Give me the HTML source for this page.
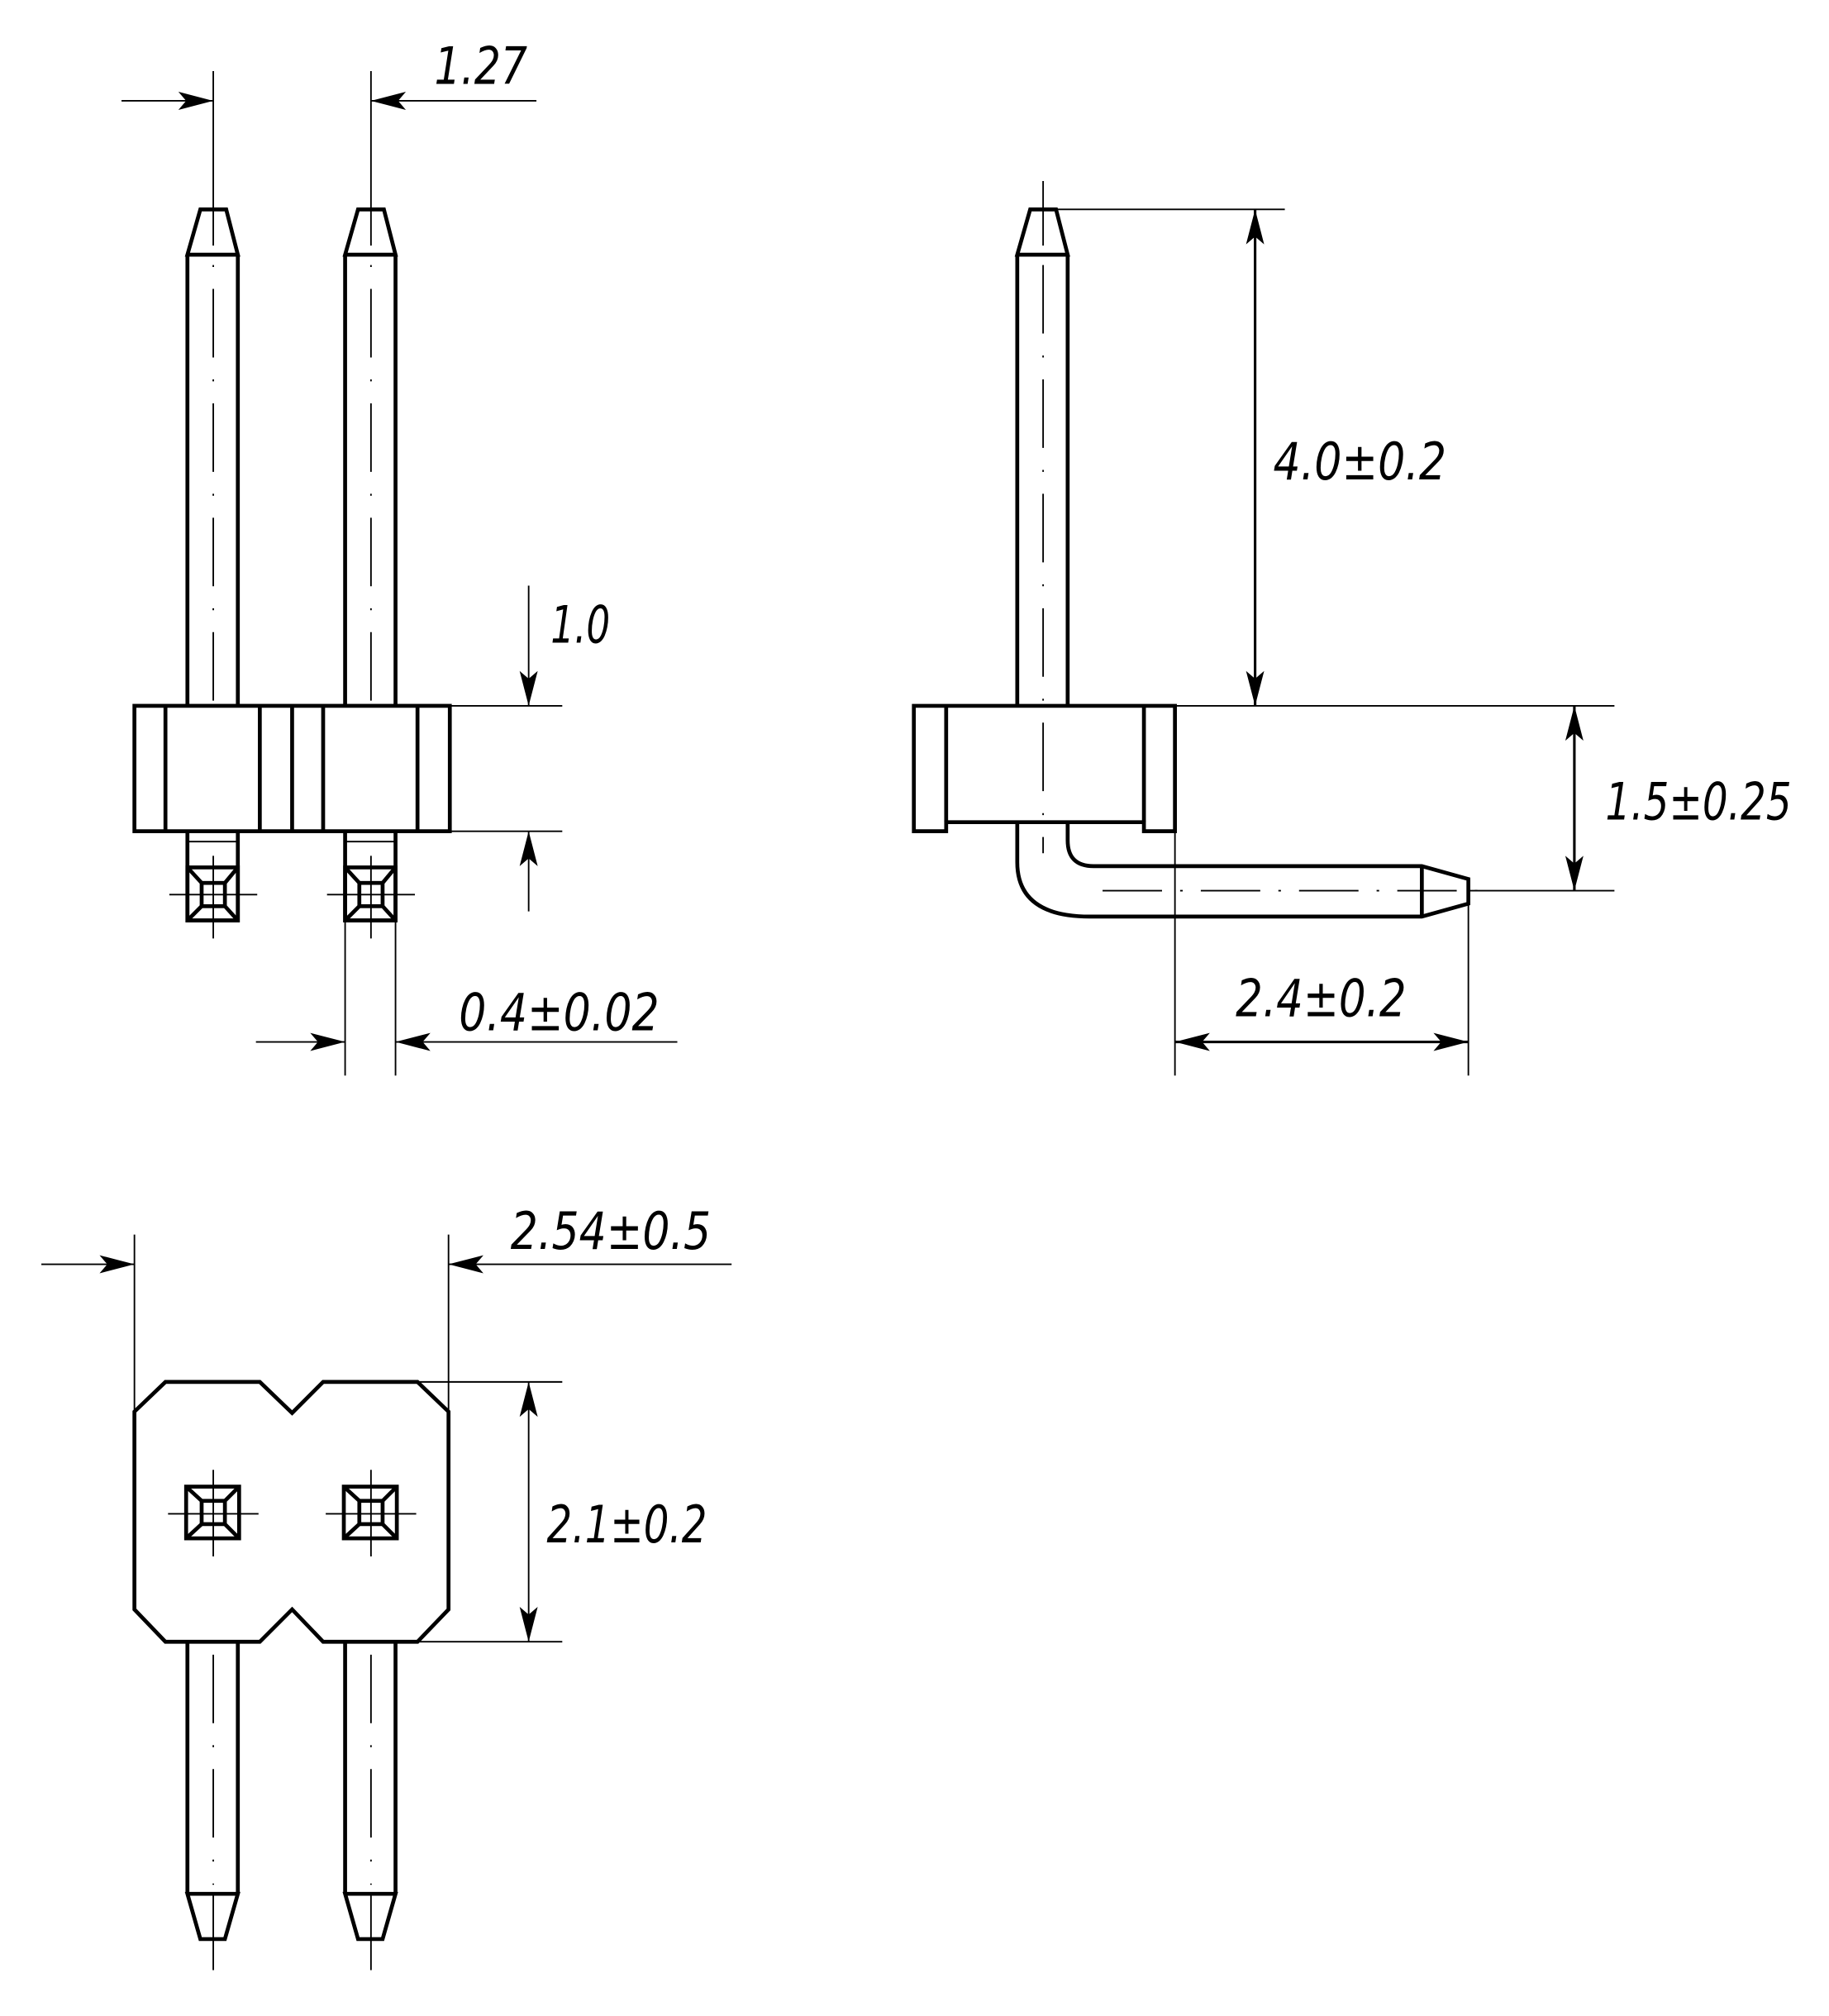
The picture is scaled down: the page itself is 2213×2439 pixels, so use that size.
<!DOCTYPE html>
<html><head><meta charset="utf-8"><style>
html,body{margin:0;padding:0;background:#fff;}
svg{display:block;}
text{font-family:"DejaVu Sans","Liberation Sans",sans-serif;font-style:italic;font-size:40px;fill:#000;}
</style></head><body>
<svg width="2213" height="2439" viewBox="0 0 1415 1559.5" xmlns="http://www.w3.org/2000/svg">
<defs>
<marker id="a" markerUnits="userSpaceOnUse" markerWidth="40" markerHeight="20" viewBox="-30 -10 32 20" refX="0" refY="0" orient="auto-start-reverse">
<path d="M0,0 L-27,-7 L-21,0 L-27,7 Z" fill="#000"/>
</marker>
</defs>
<g fill="none" stroke="#000" stroke-linejoin="miter">
<!-- ============ TOP-LEFT VIEW ============ -->
<g stroke-width="3">
<path d="M155,162 L175,162 L184,197 L145,197 Z"/>
<path d="M145,197 V546 M184,197 V546"/>
<path d="M277,162 L297,162 L306,197 L267,197 Z"/>
<path d="M267,197 V546 M306,197 V546"/>
<rect x="104" y="546" width="244" height="97"/>
<path d="M128,546 V643 M201,546 V643 M226,546 V643 M250,546 V643 M323,546 V643"/>
<path d="M145,643 V712 H184 V643 M267,643 V712 H306 V643"/>
<rect x="145" y="671" width="39" height="41"/>
<rect x="156" y="683" width="18" height="18"/>
<path d="M145,671 L156,683 M184,671 L174,683 M145,712 L156,701 M184,712 L174,701"/>
<rect x="267" y="671" width="39" height="41"/>
<rect x="278" y="683" width="18" height="18"/>
<path d="M267,671 L278,683 M306,671 L296,683 M267,712 L278,701 M306,712 L296,701"/>
</g>
<g stroke-width="1.2">
<path d="M145,651 H184 M267,651 H306"/>
<path d="M131,692 H199 M253,692 H321 M165,662 V726 M287,662 V726"/>
<path d="M165,55 V190 M287,55 V190"/>
<path d="M165,205 V545 M287,205 V545" stroke-dasharray="1.5 17 53 17"/>
<path d="M94,78 H165" marker-end="url(#a)"/>
<path d="M415,78 H287" marker-end="url(#a)"/>
<path d="M348,546 H435 M348,643 H435"/>
<path d="M409,453 V546" marker-end="url(#a)"/>
<path d="M409,705 V643" marker-end="url(#a)"/>
<path d="M267,712 V832 M306,712 V832"/>
<path d="M198,806 H267" marker-end="url(#a)"/>
<path d="M524,806 H306" marker-end="url(#a)"/>
</g>

<!-- ============ RIGHT VIEW ============ -->
<g transform="translate(-4,0)">
<g stroke-width="3">
<path d="M801,162 L821,162 L830,197 L791,197 Z"/>
<path d="M791,197 V546 M830,197 V546"/>
<path d="M711,546 H913 V643 H889 V636 H736 V643 H711 Z"/>
<path d="M736,546 V636 M889,546 V636"/>
<path d="M791,636 V667 Q791,709 847,709 H1104 L1140,699 V680 L1104,670 H850 Q830,670 830,650 V636"/>
<path d="M1104,670 V709"/>
</g>
<g stroke-width="1.2">
<path d="M811,140 V190"/>
<path d="M811,205 V660" stroke-dasharray="53 17 1.5 17"/>
<path d="M857,689 H1160" stroke-dasharray="46 14 2 14"/>
<path d="M822,162 H998 M913,546 H1253"/>
<path d="M975,162 V546" marker-start="url(#a)" marker-end="url(#a)" stroke-width="2"/>
<path d="M1140,689 H1253"/>
<path d="M1222,546 V689" marker-start="url(#a)" marker-end="url(#a)" stroke-width="2"/>
<path d="M913,643 V832 M1140,699 V832"/>
<path d="M913,806 H1140" marker-start="url(#a)" marker-end="url(#a)" stroke-width="2"/>
</g>
</g>

<!-- ============ BOTTOM VIEW ============ -->
<g stroke-width="3">
<path d="M128,1069 H201 L226,1093 L250,1069 H323 L347,1092 V1245 L323,1270 H250 L226,1245 L201,1270 H128 L104,1245 V1092 Z"/>
<rect x="144" y="1150" width="41" height="40"/>
<rect x="156" y="1161" width="18" height="18"/>
<path d="M144,1150 L156,1161 M185,1150 L174,1161 M144,1190 L156,1179 M185,1190 L174,1179"/>
<rect x="266" y="1150" width="41" height="40"/>
<rect x="278" y="1161" width="18" height="18"/>
<path d="M266,1150 L278,1161 M307,1150 L296,1161 M266,1190 L278,1179 M307,1190 L296,1179"/>
<path d="M145,1270 V1465 M184,1270 V1465 M145,1465 H184 L174,1500 H155 Z"/>
<path d="M267,1270 V1465 M306,1270 V1465 M267,1465 H306 L296,1500 H277 Z"/>
</g>
<g stroke-width="1.2">
<path d="M130,1171 H200 M252,1171 H322 M165,1137 V1204 M287,1137 V1204"/>
<path d="M165,1280 V1458 M287,1280 V1458" stroke-dasharray="53 17 1.5 17"/>
<path d="M165,1466 V1524 M287,1466 V1524"/>
<path d="M104,955 V1092 M347,955 V1092"/>
<path d="M32,978 H104" marker-end="url(#a)"/>
<path d="M566,978 H347" marker-end="url(#a)"/>
<path d="M323,1069 H435 M323,1270 H435"/>
<path d="M409,1069 V1270" marker-start="url(#a)" marker-end="url(#a)"/>
</g>
</g>

<text x="336" y="65" textLength="72" lengthAdjust="spacingAndGlyphs">1.27</text>
<text x="426" y="497" textLength="46" lengthAdjust="spacingAndGlyphs">1.0</text>
<text x="355" y="797" textLength="155" lengthAdjust="spacingAndGlyphs">0.4±0.02</text>
<text x="985" y="371" textLength="134" lengthAdjust="spacingAndGlyphs">4.0±0.2</text>
<text x="1242" y="634" textLength="144" lengthAdjust="spacingAndGlyphs">1.5±0.25</text>
<text x="956" y="786" textLength="132" lengthAdjust="spacingAndGlyphs">2.4±0.2</text>
<text x="395" y="966" textLength="155" lengthAdjust="spacingAndGlyphs">2.54±0.5</text>
<text x="423" y="1193" textLength="124" lengthAdjust="spacingAndGlyphs">2.1±0.2</text>
</svg>
</body></html>
